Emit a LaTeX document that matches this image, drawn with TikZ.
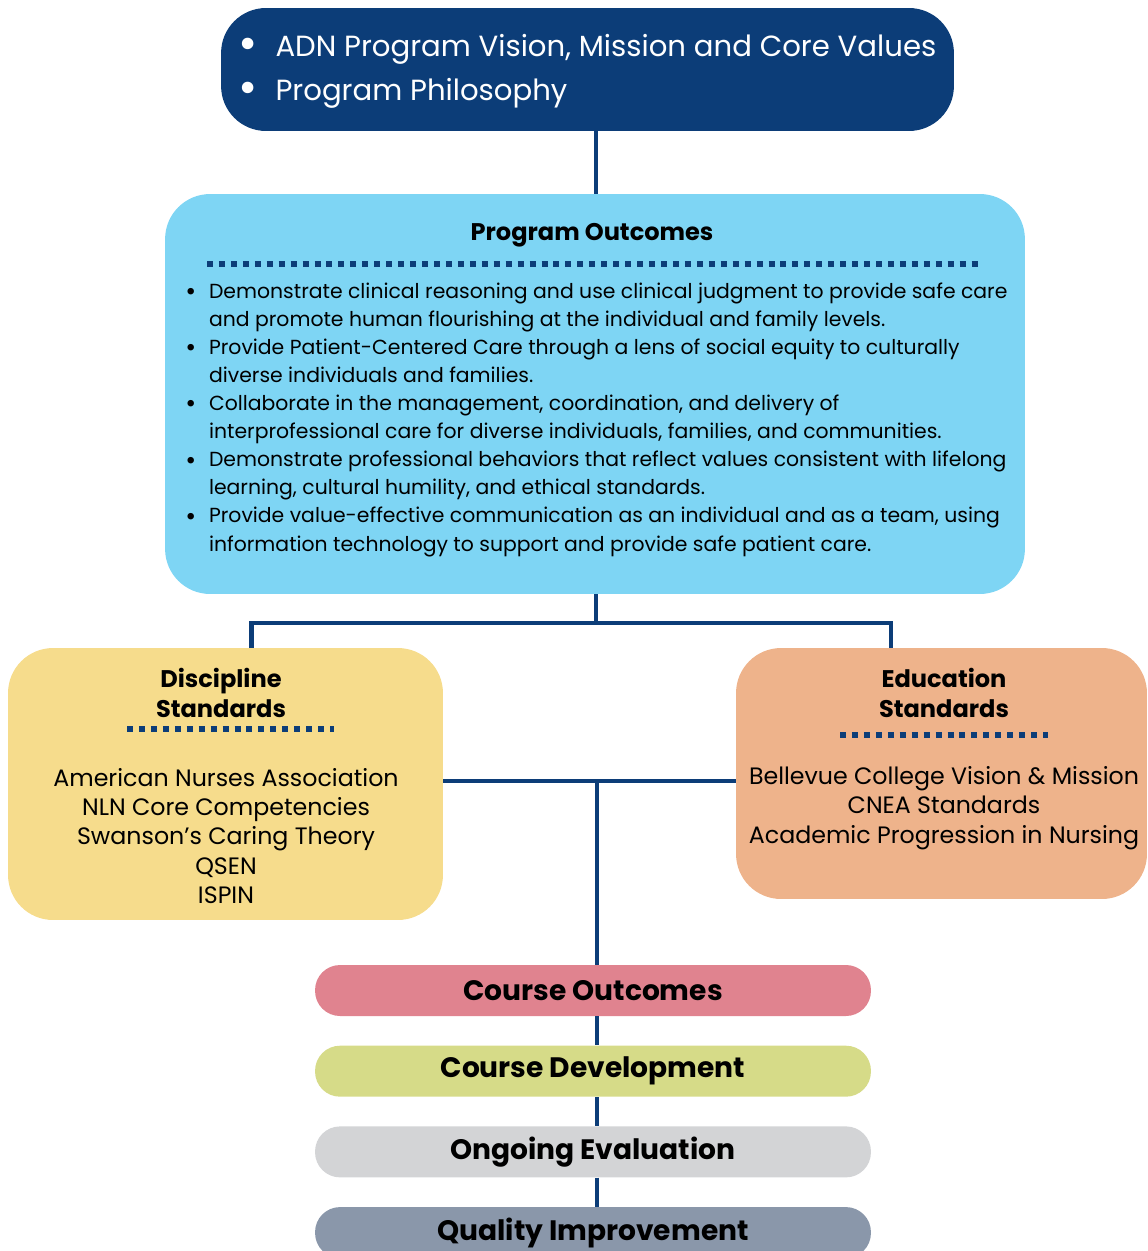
\documentclass[tikz,border=0pt]{standalone}
\usepackage{fontspec}
\setmainfont{Poppins}
\usetikzlibrary{positioning}

\definecolor{navy}{HTML}{0C3D78}
\definecolor{sky}{HTML}{7ED5F4}
\definecolor{sand}{HTML}{F6DC8C}
\definecolor{peach}{HTML}{EEB38B}
\definecolor{rose}{HTML}{E0838F}
\definecolor{lime}{HTML}{D6DB88}
\definecolor{silver}{HTML}{D3D4D6}
\definecolor{slate}{HTML}{8A97AA}

\newcommand{\bigdot}[1]{\raisebox{-0.12em}{\scalebox{#1}{\textbullet}}}

\begin{document}
\begin{tikzpicture}[
  x=0.02cm, y=-0.02cm,
  panel/.style={rounded corners=0.9cm, inner sep=0pt},
  pill/.style={rounded corners=0.5cm, minimum width=11.12cm, minimum height=1.02cm,
    inner sep=0pt, font=\bfseries\fontsize{16}{18}\selectfont},
  head/.style={font=\bfseries\fontsize{13.7}{17}\selectfont, align=center},
  body/.style={font=\fontsize{13.5}{16.7}\selectfont, align=center},
  link/.style={draw=navy, line width=2.8pt},
  dotrule/.style={draw=navy, line width=3pt, dash pattern=on 3.4pt off 3.4pt}]

  \useasboundingbox (0,0) rectangle (1148,1251);

  \node[panel, fill=navy, text=white, minimum width=14.66cm, minimum height=2.46cm,
    font=\fontsize{16.6}{25}\selectfont] (vision) at (587.5,69.5)
    {\begin{tabular}{@{}p{21pt}@{}l@{}}
      \bigdot{1.6} & ADN Program Vision, Mission and Core Values\\
      \bigdot{1.6} & Program Philosophy
    \end{tabular}};

  \node[panel, fill=sky, minimum width=17.2cm, minimum height=8cm] (outcomes) at (595,394) {};
  \node[head] (outtitle) at (592,235) {Program Outcomes};
  \draw[dotrule] (207,264) -- (980,264);
  \node[anchor=north west, inner sep=0pt, font=\fontsize{11.6}{16}\selectfont] (outlist) at (185,278)
    {\begin{tabular}{@{}p{13.5pt}@{}l@{}}
      \bigdot{1.3} & Demonstrate clinical reasoning and use clinical judgment to provide safe care\\
       & and promote human flourishing at the individual and family levels.\\
      \bigdot{1.3} & Provide Patient-Centered Care through a lens of social equity to culturally\\
       & diverse individuals and families.\\
      \bigdot{1.3} & Collaborate in the management, coordination, and delivery of\\
       & interprofessional care for diverse individuals, families, and communities.\\
      \bigdot{1.3} & Demonstrate professional behaviors that reflect values consistent with lifelong\\
       & learning, cultural humility, and ethical standards.\\
      \bigdot{1.3} & Provide value-effective communication as an individual and as a team, using\\
       & information technology to support and provide safe patient care.
    \end{tabular}};

  \node[panel, fill=sand, minimum width=8.7cm, minimum height=5.44cm] (discipline) at (225.5,784) {};
  \node[head] (distitle) at (221,693) {Discipline\\Standards};
  \draw[dotrule] (127,729) -- (334,729);
  \node[body] (dislist) at (226,836)
    {American Nurses Association\\NLN Core Competencies\\Swanson’s Caring Theory\\QSEN\\ISPIN};

  \node[panel, fill=peach, minimum width=8.22cm, minimum height=5.02cm] (education) at (941.5,773.5) {};
  \node[head] (edutitle) at (944,693) {Education\\Standards};
  \draw[dotrule] (840,735) -- (1048,735);
  \node[body] (edulist) at (944,808)
    {Bellevue College Vision \& Mission\\CNEA Standards\\Academic Progression in Nursing};

  \node[pill, fill=rose] (co) at (593,990.5) {Course Outcomes};
  \node[pill, fill=lime, below=0.58cm of co] (cd) {Course Development};
  \node[pill, fill=silver, below=0.58cm of cd] (oe) {Ongoing Evaluation};
  \node[pill, fill=slate, below=0.58cm of oe] (qi) {Quality Improvement};

  \coordinate (split) at (596,623);
  \coordinate (hub) at (597,781);
  \draw[link] (outcomes.north -| split) -- (vision.south -| split);
  \draw[link] (outcomes.south -| split) -- (split);
  \draw[link] ([xshift=0.52cm]discipline.north) |- (split) -| ([xshift=-1.01cm]education.north);
  \draw[link] (discipline.east |- hub) -- (education.west |- hub);
  \draw[link] (hub) -- (co.north -| hub);
  \draw[link] (co.south -| hub) -- (cd.north -| hub);
  \draw[link] (cd.south -| hub) -- (oe.north -| hub);
  \draw[link] (oe.south -| hub) -- (qi.north -| hub);
\end{tikzpicture}
\end{document}
